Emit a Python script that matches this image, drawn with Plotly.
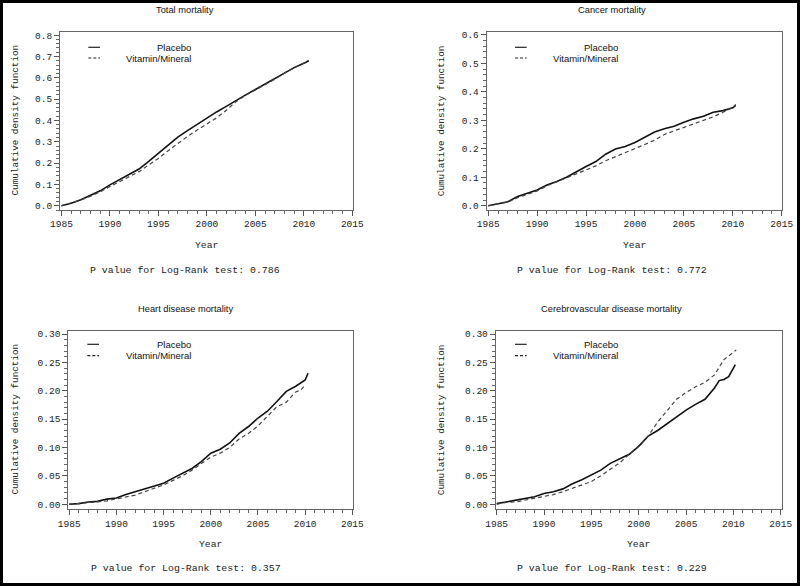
import plotly.graph_objects as go

W, H = 800, 586

# ---------------- data ----------------
years = list(range(1985, 2011))

total_years_p = years + [2010.5]
total_placebo = [0.000, 0.012, 0.028, 0.048, 0.070, 0.098, 0.122, 0.145, 0.172, 0.208,
                 0.245, 0.282, 0.322, 0.352, 0.382, 0.412, 0.440, 0.466, 0.495, 0.520,
                 0.545, 0.570, 0.595, 0.622, 0.648, 0.668, 0.680]
total_years_v = years + [2010.5]
total_vitamin = [0.000, 0.012, 0.027, 0.045, 0.065, 0.090, 0.113, 0.135, 0.160, 0.192,
                 0.222, 0.258, 0.292, 0.325, 0.355, 0.385, 0.412, 0.448, 0.488, 0.518,
                 0.543, 0.568, 0.593, 0.622, 0.648, 0.670, 0.682]

cancer_years_p = years + [2010.3]
cancer_placebo = [0.000, 0.006, 0.014, 0.032, 0.044, 0.055, 0.073, 0.085, 0.100, 0.120,
                  0.138, 0.155, 0.181, 0.199, 0.208, 0.222, 0.240, 0.259, 0.270, 0.279,
                  0.293, 0.305, 0.314, 0.328, 0.334, 0.344, 0.352]
cancer_years_v = years + [2010.3]
cancer_vitamin = [0.000, 0.006, 0.013, 0.028, 0.040, 0.052, 0.070, 0.083, 0.098, 0.112,
                  0.125, 0.140, 0.158, 0.172, 0.185, 0.200, 0.215, 0.230, 0.250, 0.263,
                  0.275, 0.287, 0.298, 0.312, 0.328, 0.345, 0.356]

heart_years_p = years + [2010.3]
heart_placebo = [0.000, 0.001, 0.004, 0.005, 0.009, 0.011, 0.017, 0.022, 0.027, 0.032,
                 0.037, 0.046, 0.054, 0.063, 0.075, 0.090, 0.097, 0.108, 0.125, 0.137,
                 0.152, 0.164, 0.181, 0.199, 0.208, 0.219, 0.231]
heart_years_v = list(range(1985, 2010)) + [2009.5, 2010]
heart_vitamin = [0.000, 0.001, 0.003, 0.004, 0.006, 0.009, 0.013, 0.016, 0.022, 0.028,
                 0.034, 0.042, 0.050, 0.060, 0.072, 0.083, 0.090, 0.100, 0.115, 0.125,
                 0.138, 0.155, 0.172, 0.180, 0.198, 0.201, 0.210]

cere_years_p = list(range(1985, 2008)) + [2008, 2008.5, 2009, 2009.5, 2010, 2010.2]
cere_placebo = [0.001, 0.004, 0.006, 0.009, 0.013, 0.019, 0.022, 0.027, 0.036, 0.043,
                0.051, 0.060, 0.072, 0.080, 0.088, 0.102, 0.120, 0.130, 0.142, 0.153,
                0.166, 0.176, 0.185, 0.205, 0.218, 0.220, 0.225, 0.240, 0.246]
cere_years_v = years + [2010.3]
cere_vitamin = [0.000, 0.003, 0.004, 0.007, 0.010, 0.013, 0.017, 0.022, 0.028, 0.033,
                0.040, 0.050, 0.062, 0.073, 0.088, 0.103, 0.120, 0.145, 0.165, 0.185,
                0.197, 0.207, 0.215, 0.228, 0.255, 0.268, 0.272]

titles = ["Total mortality", "Cancer mortality",
          "Heart disease mortality", "Cerebrovascular disease mortality"]
p_values = ["0.786", "0.772", "0.357", "0.229"]
series_names = ["Placebo", "Vitamin/Mineral"]
y_ticks = [[0.0, 0.1, 0.2, 0.3, 0.4, 0.5, 0.6, 0.7, 0.8],
           [0.0, 0.1, 0.2, 0.3, 0.4, 0.5, 0.6],
           [0.00, 0.05, 0.10, 0.15, 0.20, 0.25, 0.30],
           [0.00, 0.05, 0.10, 0.15, 0.20, 0.25, 0.30]]
x_ticks = [1985, 1990, 1995, 2000, 2005, 2010, 2015]

panels = [
    (total_years_p, total_placebo, total_years_v, total_vitamin),
    (cancer_years_p, cancer_placebo, cancer_years_v, cancer_vitamin),
    (heart_years_p, heart_placebo, heart_years_v, heart_vitamin),
    (cere_years_p, cere_placebo, cere_years_v, cere_vitamin),
]

# ---------------- layout (pixel geometry) ----------------
# frame boxes: (left, right, top, bottom) in px
frames = [(60, 353, 32, 210), (486.7, 781.7, 32, 210),
          (68.3, 353.3, 330.7, 509.3), (495.7, 781.7, 330.7, 509.3)]
x_ranges = [[1984.85, 2015.07], [1984.84, 2015.0], [1984.9, 2015.1], [1984.9, 2015.1]]
y_ranges = [[-0.02, 0.815], [-0.015, 0.61], [-0.009, 0.306], [-0.009, 0.306]]
y_fmt = [".1f", ".1f", ".2f", ".2f"]
y_minor = [0.02, 0.02, 0.01, 0.01]
centers_x = [185, 611.7, 185.7, 611.7]    # title / p-value centre
title_y = [10, 10, 309, 309]
ytitle_x = [15, 441.7, 15, 441.7]
year_y = [245, 245, 544, 544]
p_y = [270, 270, 568.3, 568.3]
leg_sample = [(88.3, 100), (515, 526.7), (87.3, 99), (515, 526.7)]
leg_text_right = [192.7, 620, 192.7, 620]
leg_y = [(47.3, 58), (47.3, 58), (344.3, 355.7), (344.3, 355.7)]

def px(x):
    return x / W

def py(y):
    return 1 - y / H

MONO = "Liberation Mono, DejaVu Sans Mono, monospace"
SANS = "Liberation Sans, Arial, sans-serif"

fig = go.Figure()
annotations = []
shapes = []
layout_axes = {}

for i, (xp, yp, xv, yv) in enumerate(panels):
    n = "" if i == 0 else str(i + 1)
    xa, ya = "x" + n, "y" + n
    fig.add_trace(go.Scatter(x=xp, y=yp, mode="lines", name=series_names[0],
                             xaxis=xa, yaxis=ya, showlegend=False,
                             line=dict(color="#111111", width=1.6)))
    fig.add_trace(go.Scatter(x=xv, y=yv, mode="lines", name=series_names[1],
                             xaxis=xa, yaxis=ya, showlegend=False,
                             line=dict(color="#444444", width=1.2, dash="4px,3px")))
    l, r, t, b = frames[i]
    axis_common = dict(showline=True, linecolor="#666666", linewidth=1, mirror=True,
                       showgrid=False, zeroline=False, ticks="outside", ticklen=5,
                       tickcolor="#555555", tickwidth=1, automargin=False,
                       tickfont=dict(family=MONO, size=9.5, color="#222222"))
    layout_axes["xaxis" + n] = dict(
        axis_common, domain=[px(l), px(r)], anchor=ya, range=x_ranges[i],
        tickmode="array", tickvals=x_ticks, ticktext=[str(v) for v in x_ticks],
        minor=dict(dtick=1, ticks="outside", ticklen=3, tickcolor="#666666"))
    layout_axes["yaxis" + n] = dict(
        axis_common, domain=[py(b), py(t)], anchor=xa, range=y_ranges[i],
        tickmode="array", tickvals=y_ticks[i],
        ticktext=[format(v, y_fmt[i]) for v in y_ticks[i]],
        minor=dict(dtick=y_minor[i], tick0=0, ticks="outside", ticklen=3,
                   tickcolor="#666666"))

    # title
    annotations.append(dict(x=px(centers_x[i]), y=py(title_y[i]), xref="paper", yref="paper",
                            text=titles[i], showarrow=False, xanchor="center", yanchor="middle",
                            font=dict(family=SANS, size=9.3, color="#111111")))
    # y axis title
    annotations.append(dict(x=px(ytitle_x[i]), y=py((t + b) / 2 - 0.5), xref="paper", yref="paper",
                            text="Cumulative density function", textangle=-90, showarrow=False,
                            xanchor="center", yanchor="middle",
                            font=dict(family=MONO, size=9.3, color="#222222")))
    # x axis title
    annotations.append(dict(x=px((l + r) / 2), y=py(year_y[i]), xref="paper", yref="paper",
                            text="Year", showarrow=False, xanchor="center", yanchor="middle",
                            font=dict(family=MONO, size=9.7, color="#222222")))
    # p value
    annotations.append(dict(x=px(centers_x[i]), y=py(p_y[i]), xref="paper", yref="paper",
                            text="P value for Log-Rank test: " + p_values[i], showarrow=False,
                            xanchor="center", yanchor="middle",
                            font=dict(family=MONO, size=9.9, color="#222222")))
    # legend (right aligned labels, line samples)
    s0, s1 = leg_sample[i]
    for k, dash in enumerate(["solid", "3px,2px"]):
        shapes.append(dict(type="line", xref="paper", yref="paper",
                           x0=px(s0), x1=px(s1), y0=py(leg_y[i][k]), y1=py(leg_y[i][k]),
                           line=dict(color="#222222", width=1.2, dash=dash)))
        annotations.append(dict(x=px(leg_text_right[i]), y=py(leg_y[i][k]), xref="paper",
                                yref="paper", text=series_names[k], showarrow=False,
                                xanchor="right", yanchor="middle",
                                font=dict(family=SANS, size=9.5, color="#111111")))

# outer border
shapes.append(dict(type="rect", xref="paper", yref="paper",
                   x0=px(1.5), x1=px(W - 1.5), y0=py(H - 1.5), y1=py(1.5),
                   line=dict(color="#000000", width=3)))

fig.update_layout(width=W, height=H, autosize=False, margin=dict(l=0, r=0, t=0, b=0, pad=0),
                  paper_bgcolor="white", plot_bgcolor="white",
                  annotations=annotations, shapes=shapes, showlegend=False,
                  **layout_axes)

fig.write_html("out.html",
               config={"displayModeBar": False, "responsive": False, "staticPlot": True},
               post_script="document.documentElement.style.overflow='hidden';"
                           "document.body.style.margin='0';"
                           "document.body.style.overflow='hidden';")
